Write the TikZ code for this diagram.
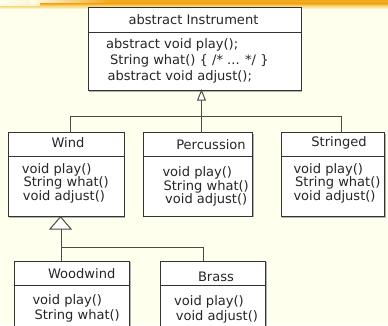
\documentclass[tikz,border=0pt]{standalone}
\usepackage{fontspec}
\setmainfont{DejaVu Sans}
\usetikzlibrary{calc}
\definecolor{paper}{HTML}{FFFFEE}
\definecolor{umlline}{HTML}{333333}
\definecolor{linkline}{HTML}{4A4A4A}
\definecolor{brushdark}{HTML}{F2A91F}
\definecolor{brushlight}{HTML}{FADB85}
\tikzset{
  classbox/.style={draw=umlline, fill=white, line width=1pt},
  boxshadow/.style={fill=black!30},
  divider/.style={draw=umlline, line width=1pt},
  umltext/.style={inner sep=0pt, text height=10pt, text depth=3.1pt,
    font=\fontsize{13.05}{15}\selectfont, text=black!85},
  member/.style={umltext, anchor=west},
  classname/.style={umltext, anchor=center},
  link/.style={draw=linkline, line width=1pt},
  inherit/.style={draw=linkline, fill=white, line width=1pt, line join=miter},
}
% draws a class box with a drop shadow and a divider line
% #1 name, #2 left, #3 top, #4 right, #5 bottom, #6 divider y
\newcommand\classrect[6]{%
  \fill[boxshadow] (#2+1.3,#3+1.3) rectangle (#4+1.3,#5+1.3);
  \path[classbox] (#2,#3) rectangle (#4,#5);
  \coordinate (#1-nw) at (#2,#3);
  \coordinate (#1-se) at (#4,#5);
  \draw[divider] (#2,#6) -- (#4,#6);
}
\begin{document}
\begin{tikzpicture}[x=1pt,y=-1pt]
  \clip (0,0) rectangle (388,325);
  \fill[paper] (0,0) rectangle (388,325);

  % brush stroke along the top edge
  \shade[left color=paper, right color=brushlight, shading angle=90]
    (0,0) rectangle (120,7);
  \fill[brushlight] (120,0) rectangle (388,7);
  \shade[top color=brushlight, bottom color=paper] (0,6.5) rectangle (388,9);
  \shade[left color=paper, right color=brushdark] (30,0) rectangle (110,3.5);
  \fill[brushdark] (109.5,0) rectangle (388,4);
  \shade[top color=brushdark, bottom color=brushlight] (40,3.5) rectangle (388,6);

  % class boxes
  \classrect{inst}{88}{7.5}{301}{90.5}{32}
  \classrect{wind}{8}{132.5}{124}{216.5}{156.7}
  \classrect{perc}{143.3}{132.5}{252.7}{216}{156.7}
  \classrect{strg}{281}{132.5}{384.3}{216.5}{156.7}
  \classrect{wood}{14}{261}{129.3}{340}{285.7}
  \classrect{brass}{160}{261}{265.7}{340}{285.7}

  % Instrument
  \node[classname] (inst-title) at (193.5,21.3) {abstract Instrument};
  \node[member] (inst-play)   at (106,45)   {abstract void play();};
  \node[member] (inst-what)   at (110,61)   {String what() \{ /* ... */ \}};
  \node[member] (inst-adjust) at (107.3,76.7) {abstract void adjust();};

  % Wind
  \node[classname] (wind-title) at (68,144) {Wind};
  \node[member] (wind-play)   at (21.7,170)   {void play()};
  \node[member] (wind-what)   at (23.3,183.5) {String what()};
  \node[member] (wind-adjust) at (22.7,197.2) {void adjust()};

  % Percussion
  \node[classname] (perc-title) at (211,146) {Percussion};
  \node[member] (perc-play)   at (162.3,173.3) {void play()};
  \node[member] (perc-what)   at (163.3,186.7) {String what()};
  \node[member] (perc-adjust) at (165,200.5)   {void adjust()};

  % Stringed
  \node[classname] (strg-title) at (339,143.3) {Stringed};
  \node[member] (strg-play)   at (293.3,170)   {void play()};
  \node[member] (strg-what)   at (295,183.5)   {String what()};
  \node[member] (strg-adjust) at (293.3,197.2) {void adjust()};

  % Woodwind
  \node[classname] (wood-title) at (81.7,275) {Woodwind};
  \node[member] (wood-play) at (32.3,301)   {void play()};
  \node[member] (wood-what) at (34.3,315.7) {String what()};

  % Brass
  \node[classname] (brass-title) at (216,277.7) {Brass};
  \node[member] (brass-play)   at (174,302.3)   {void play()};
  \node[member] (brass-adjust) at (175.7,317.3) {void adjust()};

  % inheritance: Wind, Percussion, Stringed -> Instrument
  \coordinate (inst-tip)   at (201.5,90.5);
  \coordinate (inst-base)  at (201.5,100);
  \coordinate (bus1-left)  at (70,116.5);
  \coordinate (bus1-right) at (341,116.5);
  \coordinate (wind-top)   at (70,132.5);
  \coordinate (perc-top)   at (201.5,132.5);
  \coordinate (strg-top)   at (341,132.5);
  \draw[link] (inst-base) -- (perc-top);
  \draw[link] (wind-top) -- (bus1-left) -- (bus1-right) -- (strg-top);
  \path[inherit] (inst-tip) -- ($(inst-base)+(-3.8,0)$) -- ($(inst-base)+(3.8,0)$) -- cycle;

  % inheritance: Woodwind, Brass -> Wind
  \coordinate (wind-tip)   at (60.5,216.8);
  \coordinate (wind-base)  at (60.5,229);
  \coordinate (wind-stem)  at (61.5,229);
  \coordinate (bus2-left)  at (61.5,247.5);
  \coordinate (bus2-right) at (203.3,247.5);
  \coordinate (wood-top)   at (61.5,261);
  \coordinate (brass-top)  at (203.3,261);
  \draw[link] (wind-stem) -- (wood-top);
  \draw[link] (bus2-left) -- (bus2-right) -- (brass-top);
  \path[inherit] (wind-tip) -- ($(wind-base)+(-10.5,0)$) -- ($(wind-base)+(10.5,0)$) -- cycle;
\end{tikzpicture}
\end{document}
